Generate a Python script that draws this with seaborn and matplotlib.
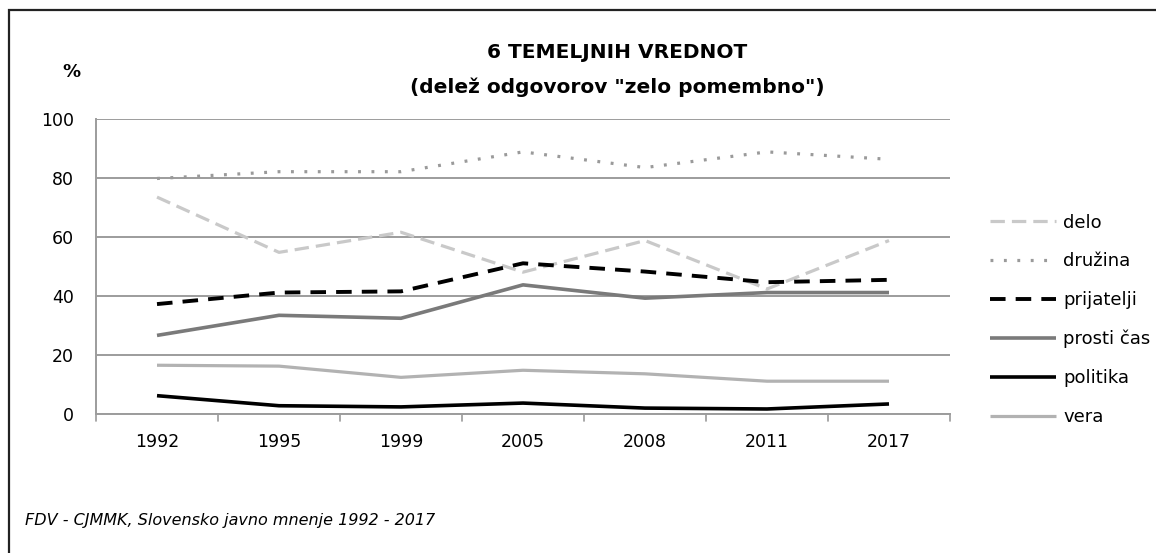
import numpy as np
import pandas as pd
import matplotlib
matplotlib.use("Agg")
import matplotlib.pyplot as plt
import seaborn as sns
from matplotlib.patches import Rectangle

years = ["1992", "1995", "1999", "2005", "2008", "2011", "2017"]
delo = [73.4, 54.7, 61.5, 48.0, 58.7, 42.3, 58.7]
druzina = [79.7, 82.0, 82.0, 88.7, 83.4, 88.7, 86.2]
prijatelji = [37.2, 41.1, 41.5, 51.0, 48.2, 44.6, 45.4]
prosti_cas = [26.6, 33.4, 32.4, 43.7, 39.2, 41.1, 41.1]
politika = [6.2, 2.8, 2.4, 3.7, 2.0, 1.7, 3.4]
vera = [16.5, 16.2, 12.4, 14.8, 13.6, 11.1, 11.1]

series_names = ["delo", "družina", "prijatelji", "prosti čas", "politika", "vera"]
series_vals = [delo, druzina, prijatelji, prosti_cas, politika, vera]

rows = []
for name, vals in zip(series_names, series_vals):
    for i, v in enumerate(vals):
        rows.append({"idx": i, "value": v, "serija": name})
df = pd.DataFrame(rows)

sns.set_theme(style="white")
plt.rcParams['font.family'] = ['DejaVu Sans']
plt.rcParams['text.color'] = 'black'
plt.rcParams['xtick.labelcolor'] = 'black'
plt.rcParams['ytick.labelcolor'] = 'black'

styles = {
    "delo": dict(color="#c9c9c9", lw=2.3, dashes=(4.5, 2.2)),
    "družina": dict(color="#9a9a9a", lw=2.3, dashes=(0.9, 3.3)),
    "prijatelji": dict(color="#000000", lw=2.8, dashes=(4.0, 2.6)),
    "prosti čas": dict(color="#7a7a7a", lw=2.6, dashes=None),
    "politika": dict(color="#000000", lw=2.6, dashes=None),
    "vera": dict(color="#b2b2b2", lw=2.3, dashes=None),
}

fig = plt.figure(figsize=(11.56, 5.53), dpi=100)
ax = fig.add_axes([96 / 1156, 1 - 414 / 553, (950 - 96) / 1156, (414 - 118.5) / 553])

for name in series_names:
    st = styles[name]
    sub = df[df["serija"] == name]
    sns.lineplot(data=sub, x="idx", y="value", ax=ax, color=st["color"],
                 linewidth=st["lw"], label=name, legend=False)
    line = ax.lines[-1]
    if st["dashes"] is not None:
        line.set_dashes(st["dashes"])
    line.set_solid_capstyle("butt")

ax.set_xlim(-0.5, len(years) - 0.5)
ax.set_ylim(0, 100)
ax.set_yticks(np.arange(0, 101, 20))
ax.set_yticklabels([str(v) for v in range(0, 101, 20)], fontsize=12.5, color="black")
ax.set_xticks(range(len(years)))
ax.set_xticklabels(years, fontsize=12.5, color="black")
ax.tick_params(axis="x", length=0, pad=14)
ax.tick_params(axis="y", length=6, width=1.2, color="#999999", direction="out", pad=10)
for t in np.arange(-0.5, len(years), 1.0):
    ax.plot([t, t], [0, -2.2], color="#999999", lw=1.2, clip_on=False)
ax.grid(axis="y", color="#9c9c9c", linewidth=1.4)
ax.grid(axis="x", visible=False)
ax.set_xlabel("")
ax.set_ylabel("")
for sp in ["top", "right"]:
    ax.spines[sp].set_visible(False)
for sp in ["bottom", "left"]:
    ax.spines[sp].set_color("#9c9c9c")
    ax.spines[sp].set_linewidth(1.4)

handles = ax.lines[:len(series_names)]
leg = fig.legend(handles, series_names, loc="upper left",
                 bbox_to_anchor=(0.8426, 0.643), frameon=False, fontsize=13,
                 handlelength=3.65, handletextpad=0.4, labelspacing=1.15)
for t in leg.get_texts():
    t.set_color("black")

fig.text(0.534, 1 - 52 / 553, "6 TEMELJNIH VREDNOT", ha="center", va="center",
         fontsize=14.5, fontweight="bold", color="black")
fig.text(0.534, 1 - 87 / 553, '(delež odgovorov "zelo pomembno")', ha="center", va="center",
         fontsize=14.5, fontweight="bold", color="black")
fig.text(71 / 1156, 1 - 72 / 553, "%", ha="center", va="center", fontsize=13,
         fontweight="bold", color="black")
fig.text(25 / 1156, 1 - 520 / 553, "FDV - CJMMK, Slovensko javno mnenje 1992 - 2017", ha="left",
         va="center", fontsize=11.5, fontstyle="italic", color="black")

fig.patches.append(Rectangle((8.5 / 1156, -0.05), 1.2, 1.05 - 10 / 553,
                             transform=fig.transFigure, fill=False,
                             edgecolor="#222222", linewidth=1.6))

fig.savefig("out.png", dpi=100)
